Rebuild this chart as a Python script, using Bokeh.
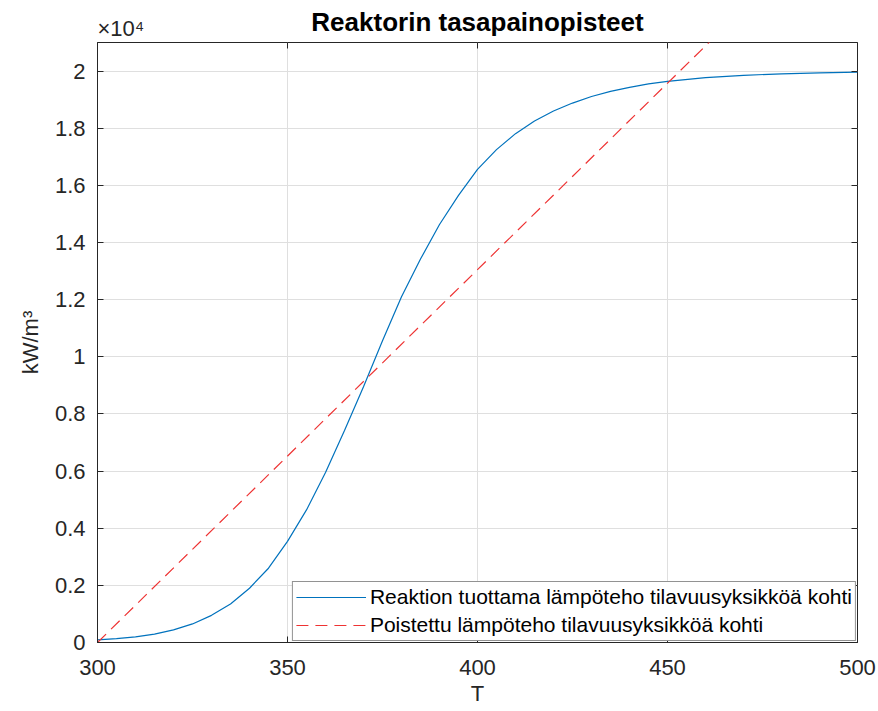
from bokeh.plotting import figure
from bokeh.models import (FixedTicker, LinearAxis, Legend, LegendItem, Range1d,
                          CustomLabelingPolicy, Title)
from bokeh.embed import file_html
from bokeh.resources import INLINE

# ---- data ----
T_gen = [300, 305, 310, 315, 320, 325, 330, 335, 340, 345, 350, 355, 360, 365, 370,
         375, 380, 385, 390, 395, 400, 405, 410, 415, 420, 425, 430, 435, 440, 445,
         450, 460, 470, 480, 490, 500]
Q_gen = [90, 135, 200, 295, 440, 650, 950, 1350, 1900, 2600, 3540, 4640, 5950, 7420, 8950,
         10560, 12100, 13420, 14630, 15650, 16560, 17250, 17810, 18250, 18600, 18880, 19110, 19290, 19430, 19550,
         19640, 19770, 19850, 19905, 19940, 19960]
T_rem = [300, 500]
Q_rem = [0, 26100]

x_ticks = [300, 350, 400, 450, 500]
y_ticks = [0, 2000, 4000, 6000, 8000, 10000, 12000, 14000, 16000, 18000, 20000]
y_tick_labels = ["0", "0.2", "0.4", "0.6", "0.8", "1", "1.2", "1.4", "1.6", "1.8", "2"]
y_multiplier = "×10⁴"

title_text = "Reaktorin tasapainopisteet"
x_label = "T"
y_label = "kW/m³"
legend_labels = ["Reaktion tuottama lämpöteho tilavuusyksikköä kohti",
                 "Poistettu lämpöteho tilavuusyksikköä kohti"]

FONT = "Liberation Sans"
AX = "#262626"
GRID = "#DFDFDF"

p = figure(frame_width=760, frame_height=600, output_backend="svg", toolbar_location=None,
           x_range=Range1d(300, 500), y_range=Range1d(0, 21000),
           min_border_left=97, min_border_right=21, min_border_top=42, min_border_bottom=69,
           background_fill_color="white", border_fill_color="white")
p.title.text = ""

p.outline_line_color = AX
p.outline_line_width = 1

for ax in (p.xaxis[0], p.yaxis[0]):
    ax.axis_line_color = AX
    ax.major_tick_line_color = AX
    ax.major_tick_in = 6
    ax.major_tick_out = 0
    ax.minor_tick_line_color = None
    ax.major_label_text_font = FONT
    ax.major_label_text_font_size = "22px"
    ax.major_label_text_color = AX
    ax.axis_label_text_font = FONT
    ax.axis_label_text_font_size = "22px"
    ax.axis_label_text_color = AX
    ax.axis_label_text_font_style = "normal"

p.xaxis.ticker = FixedTicker(ticks=x_ticks)
p.yaxis.ticker = FixedTicker(ticks=y_ticks)
p.yaxis.major_label_overrides = {t: l for t, l in zip(y_ticks, y_tick_labels)}
p.xaxis.axis_label = x_label
p.yaxis.axis_label = y_label
p.xaxis.major_label_standoff = 17
p.yaxis.major_label_standoff = 12
p.xaxis.axis_label_standoff = 3
p.yaxis.axis_label_standoff = 9

# box ticks on top and right (labels hidden by a labeling policy)
hide_all = CustomLabelingPolicy(code="""
    for (const i of indices) { indices.unset(i) }
    return indices
""")
top = LinearAxis(ticker=FixedTicker(ticks=x_ticks), major_tick_in=6, major_tick_out=0,
                 major_label_policy=hide_all, major_label_standoff=0, major_label_text_font_size="1px",
                 axis_line_color=None, major_tick_line_color=AX, minor_tick_line_color=None)
right = LinearAxis(ticker=FixedTicker(ticks=y_ticks), major_tick_in=6, major_tick_out=0,
                   major_label_policy=hide_all, major_label_standoff=0, major_label_text_font_size="1px",
                   axis_line_color=None, major_tick_line_color=AX, minor_tick_line_color=None)
p.add_layout(top, "above")
p.add_layout(right, "right")

# axis multiplier (nearest the frame) and the main title (pulled down into the same band)
p.add_layout(Title(text=y_multiplier, align="left", vertical_align="bottom", text_font=FONT,
                   text_font_size="22px", text_font_style="normal", text_color=AX,
                   standoff=-4), "above")
p.add_layout(Title(text=title_text, align="center", vertical_align="bottom", text_font=FONT,
                   text_font_size="26px", text_font_style="bold", text_color="black",
                   standoff=-42), "above")

p.xgrid.ticker = FixedTicker(ticks=x_ticks)
p.ygrid.ticker = FixedTicker(ticks=y_ticks)
p.grid.grid_line_color = GRID
p.grid.grid_line_width = 1

r1 = p.line(T_gen, Q_gen, line_color="#0072BD", line_width=1.2)
r2 = p.line(T_rem, Q_rem, line_color="#EE3333", line_width=1.2, line_dash="12 7")

legend = Legend(items=[LegendItem(label=legend_labels[0], renderers=[r1]),
                       LegendItem(label=legend_labels[1], renderers=[r2])],
                location="bottom_right", margin=1,
                label_text_font=FONT, label_text_font_size="21px", label_text_color="black",
                glyph_width=70, glyph_height=22, label_height=22, label_standoff=4,
                spacing=4, padding=3, border_line_color=AX, border_line_width=1,
                background_fill_color="white", background_fill_alpha=1)
p.add_layout(legend, "center")

open("out.html", "w").write(file_html(p, INLINE))
